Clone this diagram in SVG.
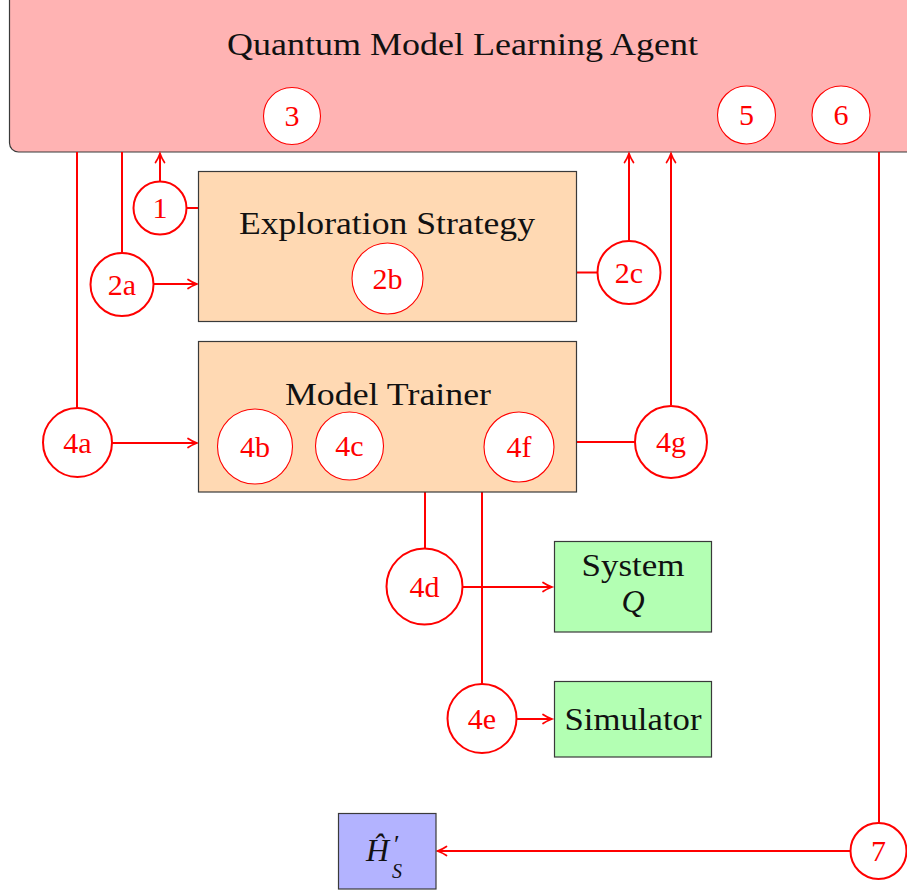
<svg xmlns="http://www.w3.org/2000/svg" width="907" height="894" viewBox="0 0 907 894">
  <style>
    .box { stroke: #3a3a3a; stroke-width: 1.2; }
    .agent { fill: #FFB3B3; }
    .comp { fill: #FFD9B3; }
    .ext { fill: #B3FFB3; }
    .out { fill: #B3B3FF; }
    .title { font-family: "Liberation Serif", serif; font-size: 32px; fill: #111; text-anchor: middle; }
    .step { fill: #fff; stroke: #f00; stroke-width: 2; }
    .step-in { fill: #fff; stroke: #f00; stroke-width: 1.1; }
    .lbl { font-family: "Liberation Serif", serif; font-size: 30px; fill: #f00; text-anchor: middle; }
    .wire { fill: none; stroke: #f00; stroke-width: 2; }
    .arr { marker-end: url(#tip); }
  </style>
  <defs>
    <marker id="tip" markerUnits="userSpaceOnUse" markerWidth="14" markerHeight="12" viewBox="-11 -6 13 12" refX="0" refY="0" orient="auto" overflow="visible">
      <path d="M-9,-4.5 C-6,-2.4 -2.2,-0.8 0,0 C-2.2,0.8 -6,2.4 -9,4.5" fill="none" stroke="#f00" stroke-width="1.7" stroke-linecap="round"/>
    </marker>
  </defs>

  <!-- agent frame -->
  <g id="agent">
    <rect class="box agent" x="9.5" y="-10" width="920" height="162" rx="9"/>
    <text class="title" x="462.5" y="55" textLength="471" lengthAdjust="spacingAndGlyphs">Quantum Model Learning Agent</text>
  </g>

  <!-- connectors -->
  <g id="connectors">
    <path class="wire" d="M77,152 V408"/>
    <path class="wire" d="M122,152 V252.5"/>
    <path class="wire arr" d="M160,181.5 V153.5"/>
    <path class="wire" d="M186.5,208 H198"/>
    <path class="wire arr" d="M153.5,284 H197"/>
    <path class="wire" d="M576,272.5 H597"/>
    <path class="wire arr" d="M629,240.5 V153.5"/>
    <path class="wire arr" d="M112,443 H197"/>
    <path class="wire" d="M577,442 H635"/>
    <path class="wire arr" d="M671,405 V153.5"/>
    <path class="wire" d="M425,492 V548.5"/>
    <path class="wire arr" d="M463,587 H552"/>
    <path class="wire" d="M482,492 V684"/>
    <path class="wire arr" d="M516,719 H552"/>
    <path class="wire" d="M879,152 V823"/>
    <path class="wire arr" d="M850,851 H437.5"/>
  </g>

  <!-- agent sub-steps -->
  <g id="step3"><circle class="step-in" cx="292" cy="116" r="28.5"/><text class="lbl" x="292" y="126">3</text></g>
  <g id="step5"><circle class="step-in" cx="746.5" cy="115" r="29"/><text class="lbl" x="746.5" y="125">5</text></g>
  <g id="step6"><circle class="step-in" cx="841" cy="115" r="29"/><text class="lbl" x="841" y="125">6</text></g>

  <!-- exploration strategy -->
  <g id="exploration">
    <rect class="box comp" x="198.5" y="171.5" width="378" height="150"/>
    <text class="title" x="387" y="234" textLength="296" lengthAdjust="spacingAndGlyphs">Exploration Strategy</text>
  </g>
  <g id="step2b"><circle class="step-in" cx="387.5" cy="278.5" r="35.5"/><text class="lbl" x="387.5" y="289">2b</text></g>

  <!-- model trainer -->
  <g id="trainer">
    <rect class="box comp" x="198.5" y="341.5" width="378" height="150.5"/>
    <text class="title" x="388" y="405" textLength="206" lengthAdjust="spacingAndGlyphs">Model Trainer</text>
  </g>
  <g id="step4b"><circle class="step-in" cx="255" cy="446.5" r="37.5"/><text class="lbl" x="255" y="457">4b</text></g>
  <g id="step4c"><circle class="step-in" cx="349.5" cy="446" r="34"/><text class="lbl" x="349.5" y="456">4c</text></g>
  <g id="step4f"><circle class="step-in" cx="519" cy="447" r="35"/><text class="lbl" x="519" y="457">4f</text></g>

  <!-- external targets -->
  <g id="system">
    <rect class="box ext" x="554.5" y="541.5" width="157" height="90.5"/>
    <text class="title" x="633" y="576" textLength="103" lengthAdjust="spacingAndGlyphs">System</text>
    <text class="title" x="633" y="612" font-style="italic">Q</text>
  </g>
  <g id="simulator">
    <rect class="box ext" x="554.5" y="681.5" width="157" height="75.5"/>
    <text class="title" x="633" y="730" textLength="137" lengthAdjust="spacingAndGlyphs">Simulator</text>
  </g>
  <g id="result">
    <rect class="box out" x="338.5" y="813.5" width="97.5" height="75.5"/>
    <text font-family="Liberation Serif, serif" font-size="32" fill="#111" font-style="italic"><tspan x="366" y="861">Ĥ</tspan><tspan x="394" y="853" font-size="26" font-style="normal">′</tspan><tspan x="392" y="878" font-size="20">S</tspan></text>
  </g>

  <!-- step markers on the connectors -->
  <g id="step1"><circle class="step" cx="160" cy="208" r="26.5"/><text class="lbl" x="160" y="218">1</text></g>
  <g id="step2a"><circle class="step" cx="122" cy="284.5" r="31.5"/><text class="lbl" x="122" y="295">2a</text></g>
  <g id="step2c"><circle class="step" cx="629" cy="272.5" r="31.5"/><text class="lbl" x="629" y="283">2c</text></g>
  <g id="step4a"><circle class="step" cx="77.5" cy="442.5" r="34.5"/><text class="lbl" x="77.5" y="453">4a</text></g>
  <g id="step4g"><circle class="step" cx="671" cy="442" r="36"/><text class="lbl" x="671" y="452">4g</text></g>
  <g id="step4d"><circle class="step" cx="424.5" cy="586.5" r="38"/><text class="lbl" x="424.5" y="597">4d</text></g>
  <g id="step4e"><circle class="step" cx="482" cy="718.5" r="34.5"/><text class="lbl" x="482" y="729">4e</text></g>
  <g id="step7"><circle class="step" cx="878.5" cy="851" r="28"/><text class="lbl" x="878.5" y="861">7</text></g>
</svg>
